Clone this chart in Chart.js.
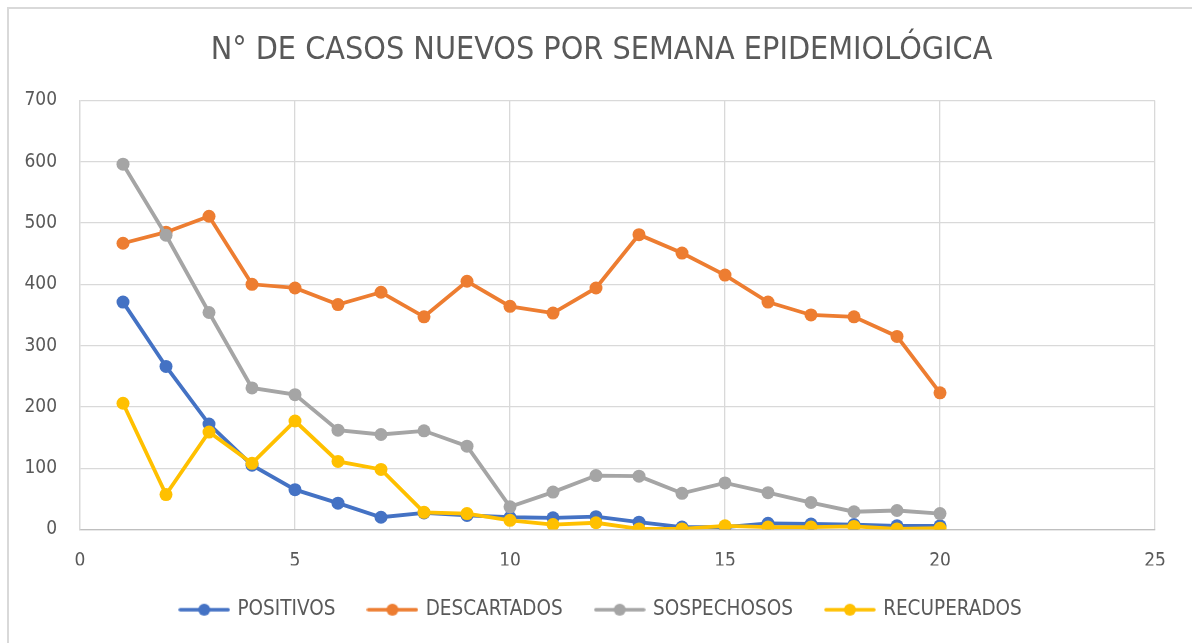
<!DOCTYPE html>
<html>
<head>
<meta charset="utf-8">
<script src="https://cdn.jsdelivr.net/npm/chart.js@4"></script>
<style>
  body { margin: 0; background: #fff; overflow: hidden; }
  #frame { position: absolute; left: 7px; top: 7px; width: 1300px; height: 800px;
           border-left: 2px solid #d9d9d9; border-top: 2px solid #d9d9d9; }
  #myChart { position: absolute; left: 0; top: 0; }
</style>
</head>
<body>
<div id="frame"></div>
<canvas id="myChart" width="1203" height="643"></canvas>
<script>
const TITLE = "N° DE CASOS NUEVOS POR SEMANA EPIDEMIOLÓGICA"
const WEEKS = [1, 2, 3, 4, 5, 6, 7, 8, 9, 10, 11, 12, 13, 14, 15, 16, 17, 18, 19, 20]
const POSITIVOS = [371, 266, 172, 105, 65, 43, 20, 27, 23, 20, 19, 21, 12, 4, 4, 10, 9, 8, 6, 6]
const DESCARTADOS = [467, 485, 511, 400, 394, 367, 387, 347, 405, 364, 353, 394, 481, 451, 415, 371, 350, 347, 315, 223]
const SOSPECHOSOS = [596, 480, 354, 231, 220, 162, 155, 161, 136, 37, 61, 88, 87, 59, 76, 60, 44, 29, 31, 26]
const RECUPERADOS = [206, 57, 159, 108, 177, 111, 98, 28, 26, 15, 8, 11, 1, 1, 6, 4, 4, 5, 1, 2]
const X_TICKS = [0, 5, 10, 15, 20, 25]
const Y_TICKS = [0, 100, 200, 300, 400, 500, 600, 700]

const FONT = "'Liberation Sans Narrow', 'DejaVu Sans Condensed', sans-serif"
const TEXT_COLOR = "#595959"

// little line + dot image for the legend
function legendMark(color) {
    const c = document.createElement("canvas");
    c.width = 52;
    c.height = 14;
    const g = c.getContext("2d");
    g.strokeStyle = color;
    g.lineWidth = 3.5;
    g.lineCap = "round";
    g.beginPath();
    g.moveTo(2, 7);
    g.lineTo(50, 7);
    g.stroke();
    g.fillStyle = color;
    g.beginPath();
    g.arc(26, 7, 6, 0, Math.PI * 2);
    g.fill();
    return c;
}

function series(label, values, color, order) {
    return {
        label: label,
        data: values.map((v, i) => ({x: WEEKS[i], y: v})),
        borderColor: color,
        backgroundColor: color,
        pointBackgroundColor: color,
        pointBorderColor: color,
        borderWidth: 3.8,
        pointRadius: 6.5,
        pointBorderWidth: 0,
        tension: 0,
        order: order,
        pointStyle: "circle",
        legendMark: legendMark(color)
    }
}

const datasets = [
    series("POSITIVOS", POSITIVOS, "#4472C4", 4),
    series("DESCARTADOS", DESCARTADOS, "#ED7D31", 3),
    series("SOSPECHOSOS", SOSPECHOSOS, "#A5A5A5", 2),
    series("RECUPERADOS", RECUPERADOS, "#FFC000", 1)
]

const data = {
    type: "line",
    data: { datasets: datasets },
    options: {
        responsive: false,
        animation: false,
        layout: { padding: { left: 0, right: 0, top: 0, bottom: 13 } },
        plugins: {
            title: {
                display: true,
                text: TITLE,
                color: TEXT_COLOR,
                font: { family: FONT, size: 32, weight: "normal" },
                padding: { top: 31, bottom: 31 }
            },
            legend: {
                position: "bottom",
                labels: {
                    color: TEXT_COLOR,
                    font: { family: FONT, size: 20.5 },
                    usePointStyle: true,
                    pointStyleWidth: 46,
                    padding: 34,
                    sort: (a, b) => a.datasetIndex - b.datasetIndex,
                    generateLabels: (chart) => chart.data.datasets.map((ds, i) => ({
                        text: ds.label,
                        fillStyle: ds.borderColor,
                        strokeStyle: ds.borderColor,
                        fontColor: TEXT_COLOR,
                        lineWidth: 0,
                        pointStyle: ds.legendMark,
                        datasetIndex: i,
                        hidden: false
                    }))
                }
            },
            tooltip: { enabled: false }
        },
        scales: {
            x: {
                type: "linear",
                min: 0,
                max: 25,
                afterBuildTicks: (axis) => { axis.ticks = X_TICKS.map(v => ({value: v})) },
                ticks: { color: TEXT_COLOR, font: { family: FONT, size: 19 }, padding: 20 },
                grid: { color: "#d9d9d9", lineWidth: 1.3, drawTicks: false },
                border: { color: "#bfbfbf", width: 1.3 },
                afterFit: (axis) => { axis.height = 36 }
            },
            y: {
                min: 0,
                max: 700,
                afterBuildTicks: (axis) => { axis.ticks = Y_TICKS.map(v => ({value: v})) },
                ticks: { color: TEXT_COLOR, font: { family: FONT, size: 19 }, padding: 23 },
                grid: { color: "#d9d9d9", lineWidth: 1.3, drawTicks: false },
                border: { color: "#d9d9d9", width: 1.3 },
                afterFit: (axis) => { axis.width = 80 }
            },
            // empty right axis, only there so title and legend centre like the original
            yRight: {
                position: "right",
                min: 0,
                max: 700,
                ticks: { display: false },
                grid: { display: false, drawTicks: false },
                border: { display: false },
                afterFit: (axis) => { axis.width = 48 }
            }
        }
    }
}

const ctx = document.getElementById("myChart");
const chart = new Chart(ctx, data);
</script>
</body>
</html>
